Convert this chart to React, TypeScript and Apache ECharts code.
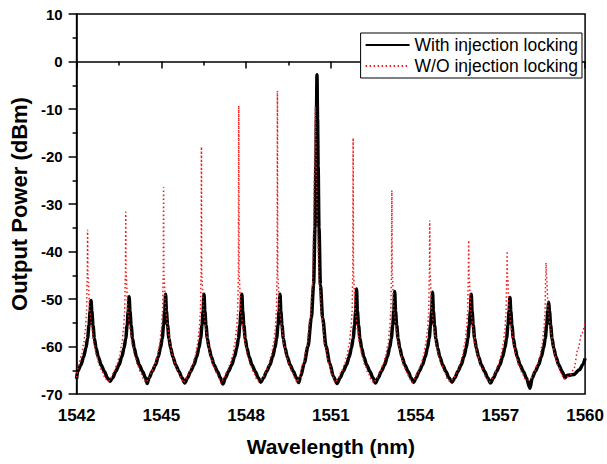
import React, { useEffect, useRef } from "react";
import * as echarts from "echarts";

// ---- Data ----
// "With injection locking" (black, solid)
const blackPeakNm = [1542.51, 1543.86, 1545.15, 1546.51, 1547.85, 1549.2, 1550.51, 1551.91, 1553.26, 1554.6, 1555.97, 1557.34, 1558.71];
const blackPeakDb = [-50.3, -49.5, -49.0, -49.0, -49.0, -49.0, -2.8, -47.9, -48.4, -48.6, -49.0, -49.7, -50.7];
const blackTroughNm = [1543.18, 1544.5, 1545.83, 1547.18, 1548.52, 1549.86, 1551.22, 1552.58, 1553.93, 1555.29, 1556.65, 1558.05];
const blackTroughDb = [-67.3, -67.8, -67.7, -67.9, -67.5, -67.6, -67.8, -67.7, -67.6, -67.5, -67.7, -68.8];
// side profile of a side mode (offset from peak in nm, level in dBm)
const blackSideOffNm = [0.03, 0.07, 0.12, 0.18, 0.26, 0.36, 0.47, 0.58];
const blackSideDb = [-52.5, -55.5, -58.3, -60.3, -62.2, -63.9, -65.2, -66.6];
// side profile of the locked main mode
const blackMainOffNm = [0.02, 0.04, 0.07, 0.12, 0.2, 0.32, 0.45, 0.58];
const blackMainDb = [-12, -22, -35, -47, -54, -60, -63.5, -66.3];
const blackMainIndex = 6;
const blackStart = [[1542.0, -66.8]];
const blackEnd = [[1559.35, -66.1], [1559.6, -65.9], [1559.8, -64.9], [1559.92, -63.8], [1560.0, -62.5]];

// "W/O injection locking" (red, dotted)
const redPeakNm = [1542.39, 1543.74, 1545.08, 1546.42, 1547.74, 1549.11, 1550.45, 1551.79, 1553.16, 1554.5, 1555.88, 1557.24, 1558.62];
const redPeakDb = [-35.5, -31.7, -26.5, -18.0, -9.3, -6.2, -9.5, -16.1, -27.2, -33.5, -37.7, -39.9, -42.4];
const redTroughNm = [1543.12, 1544.45, 1545.78, 1547.12, 1548.46, 1549.8, 1551.15, 1552.52, 1553.87, 1555.22, 1556.6, 1557.98];
const redTroughDb = [-67.4, -67.6, -67.6, -67.7, -67.4, -67.5, -67.6, -67.6, -67.5, -67.4, -67.5, -67.0];
const redLeftOffNm = [0.012, 0.04, 0.08, 0.14, 0.22, 0.32, 0.43, 0.54];
const redRightOffNm = [0.012, 0.08, 0.16, 0.23, 0.32, 0.42, 0.53, 0.63];
const redSideDb = [-45, -53, -56.5, -59.5, -62, -64, -65.5, -66.8];
const redMainLeftOffNm = [0.015, 0.035, 0.06, 0.1, 0.18, 0.3, 0.43, 0.56];
const redMainRightOffNm = [0.015, 0.04, 0.08, 0.14, 0.23, 0.35, 0.48, 0.62];
const redMainDb = [-16, -25, -36, -47, -54, -60, -63.5, -66.3];
const redMainIndex = 6;
const redStart = [[1542.0, -66.5]];
const redEnd = [[1559.45, -66.2], [1559.6, -64.8], [1559.75, -60.5], [1559.88, -57.3], [1560.0, -55.0]];

const seriesNames = ["With injection locking", "W/O injection locking"];

function buildTrace(
  peakNm: number[], peakDb: number[], troughNm: number[], troughDb: number[],
  leftOff: number[], rightOff: number[], levels: number[],
  mainIdx: number, mainLeft: number[], mainRight: number[], mainLevels: number[],
  start: number[][], end: number[][]
) {
  const pts: number[][] = [...start];
  const x0 = start[0][0];
  const x1 = end[0][0];
  peakNm.forEach((c, i) => {
    const isMain = i === mainIdx;
    const lo = isMain ? mainLeft : leftOff;
    const ro = isMain ? mainRight : rightOff;
    const lv = isMain ? mainLevels : levels;
    for (let k = lo.length - 1; k >= 0; k--) {
      const x = c - lo[k];
      if (x > x0) pts.push([x, lv[k]]);
    }
    pts.push([c, peakDb[i]]);
    for (let k = 0; k < ro.length; k++) {
      const x = c + ro[k];
      if (x < x1) pts.push([x, lv[k]]);
    }
    if (i < troughNm.length) pts.push([troughNm[i], troughDb[i]]);
  });
  pts.push(...end);
  return pts;
}

const FONT = "'Liberation Sans', Arial, Helvetica, sans-serif";

export default function App() {
  const ref = useRef<HTMLDivElement>(null);
  useEffect(() => {
    if (!ref.current) return;
    const chart = echarts.init(ref.current, null, { renderer: "svg" });
    const blackData = buildTrace(
      blackPeakNm, blackPeakDb, blackTroughNm, blackTroughDb,
      blackSideOffNm, blackSideOffNm, blackSideDb,
      blackMainIndex, blackMainOffNm, blackMainOffNm, blackMainDb,
      blackStart, blackEnd
    );
    const redData = buildTrace(
      redPeakNm, redPeakDb, redTroughNm, redTroughDb,
      redLeftOffNm, redRightOffNm, redSideDb,
      redMainIndex, redMainLeftOffNm, redMainRightOffNm, redMainDb,
      redStart, redEnd
    );
    chart.setOption({
      animation: false,
      backgroundColor: "#fff",
      textStyle: { fontFamily: FONT },
      grid: {
        left: 76, right: 18, top: 14, bottom: 70,
        show: true, borderColor: "#000", borderWidth: 1.5, backgroundColor: "transparent",
      },
      legend: {
        data: seriesNames,
        orient: "vertical",
        right: 25,
        top: 33,
        itemWidth: 44,
        itemHeight: 14,
        itemGap: 3,
        padding: [3, 4, 3, 4],
        borderColor: "#000",
        borderWidth: 1,
        backgroundColor: "#fff",
        itemStyle: { opacity: 0 },
        textStyle: { fontSize: 17.5, color: "#000", fontFamily: FONT },
      },
      xAxis: {
        type: "value",
        min: 1542,
        max: 1560,
        interval: 3,
        name: "Wavelength (nm)",
        nameLocation: "middle",
        nameGap: 42,
        nameTextStyle: { fontSize: 21, fontWeight: "bold", color: "#000", fontFamily: FONT },
        axisLine: { show: true, lineStyle: { color: "#000", width: 1.5 } },
        axisTick: { show: true, inside: false, length: 7, lineStyle: { color: "#000", width: 1.5 } },
        minorTick: { show: true, splitNumber: 2, length: 4, lineStyle: { color: "#000", width: 1.5 } },
        axisLabel: {
          fontSize: 17, fontWeight: "bold", color: "#000", margin: 13, fontFamily: FONT,
          formatter: (v: number) => String(v),
        },
        splitLine: { show: false },
        minorSplitLine: { show: false },
      },
      yAxis: {
        type: "value",
        min: -70,
        max: 10,
        interval: 10,
        name: "Output Power (dBm)",
        nameLocation: "middle",
        nameRotate: 90,
        nameGap: 42,
        nameTextStyle: { fontSize: 22, fontWeight: "bold", color: "#000", fontFamily: FONT },
        axisLine: { show: true, lineStyle: { color: "#000", width: 1.5 } },
        axisTick: { show: true, inside: false, length: 8, lineStyle: { color: "#000", width: 1.5 } },
        minorTick: { show: true, splitNumber: 2, length: 4, lineStyle: { color: "#000", width: 1.5 } },
        axisLabel: { fontSize: 15, fontWeight: "bold", color: "#000", margin: 14, fontFamily: FONT },
        splitLine: { show: false },
        minorSplitLine: { show: false },
      },
      series: [
        {
          name: seriesNames[0],
          type: "line",
          data: blackData,
          symbol: "none",
          smooth: 0.3,
          smoothMonotone: "x",
          clip: true,
          lineStyle: { color: "#000", width: 3.5 },
          itemStyle: { color: "#000" },
          z: 2,
        },
        {
          name: seriesNames[1],
          type: "line",
          data: redData,
          symbol: "none",
          smooth: 0.3,
          smoothMonotone: "x",
          clip: true,
          lineStyle: { color: "#f01e1e", width: 1.5, type: [1.5, 2.5] },
          itemStyle: { color: "#f01e1e" },
          z: 3,
        },
      ],
    });
    return () => chart.dispose();
  }, []);
  return (
    <div
      ref={ref}
      style={{ position: "fixed", left: 0, top: 0, width: 607, height: 464, background: "#fff" }}
    />
  );
}
